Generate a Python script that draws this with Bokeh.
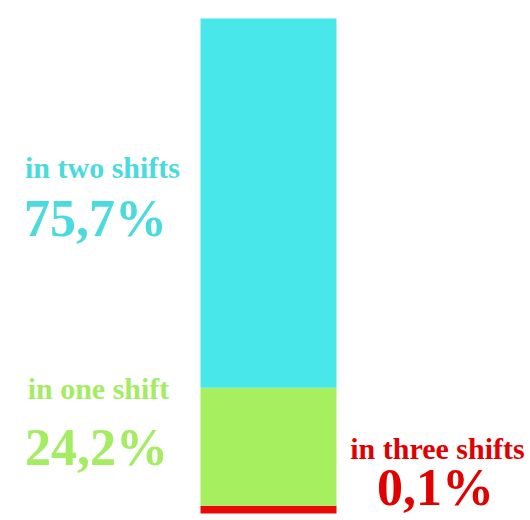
from bokeh.plotting import figure
from bokeh.models import Range1d, ColumnDataSource
from bokeh.core.properties import value
from bokeh.embed import file_html
from bokeh.resources import INLINE

# data
categories = ["in three shifts", "in one shift", "in two shifts"]
shares = [0.1, 24.2, 75.7]
share_labels = ["0,1%", "24,2%", "75,7%"]
bar_colors = ["#E80A06", "#A6F060", "#48E8EA"]
text_colors = ["#E00000", "#A4EC62", "#4BDADE"]

W, H = 530, 520
BAR_TOP_PX, BAR_BOTTOM_PX = 18, 513
MIN_VISIBLE = 1.6  # minimum drawn thickness (percent units) so tiny share is visible

drawn = [max(s, MIN_VISIBLE) for s in shares]
bottoms, tops = [], []
acc = 0.0
for d in drawn:
    bottoms.append(acc)
    acc += d
    tops.append(acc)
total = acc
px_per_unit = (BAR_BOTTOM_PX - BAR_TOP_PX) / total
y_lo = -(H - BAR_BOTTOM_PX) / px_per_unit
y_hi = total + BAR_TOP_PX / px_per_unit

p = figure(width=W, height=H, output_backend="svg", toolbar_location=None,
           x_range=Range1d(0, W), y_range=Range1d(y_lo, y_hi), min_border=0)
p.axis.visible = False
p.grid.visible = False
p.outline_line_color = None
p.background_fill_color = "white"
p.border_fill_color = "white"

src = ColumnDataSource(dict(x=[268] * 3, bottom=bottoms, top=tops, color=bar_colors))
p.vbar(x="x", width=136, bottom="bottom", top="top", fill_color="color",
       line_color=None, source=src)

def yd(px):
    return (BAR_BOTTOM_PX - px) / px_per_unit

# label positions (x center, baseline px from top) for name and value
name_pos = [(437, 448), (98, 388), (102, 167)]
val_pos = [(435, 487), (96, 447), (95, 218)]

lsrc = ColumnDataSource(dict(
    x=[q[0] for q in name_pos], y=[yd(q[1]) for q in name_pos],
    t=categories, c=text_colors))
vsrc = ColumnDataSource(dict(
    x=[q[0] for q in val_pos], y=[yd(q[1]) for q in val_pos],
    t=share_labels, c=text_colors))

p.text(x="x", y="y", text="t", text_color="c", source=lsrc,
       text_font=value("Liberation Serif"), text_font_style="bold",
       text_font_size="30px", text_align="center", text_baseline="alphabetic")
p.text(x="x", y="y", text="t", text_color="c", source=vsrc,
       text_font=value("Liberation Serif"), text_font_style="bold",
       text_font_size="52px", text_align="center", text_baseline="alphabetic")

open("out.html", "w").write(file_html(p, INLINE))
